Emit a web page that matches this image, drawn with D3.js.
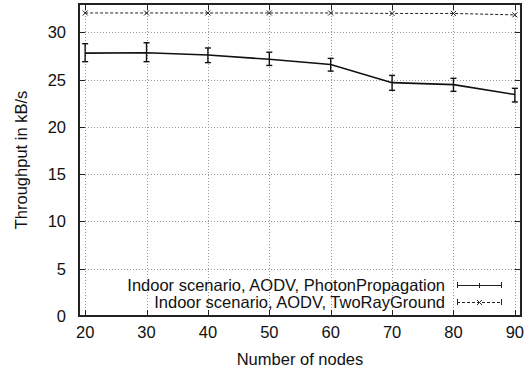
<!DOCTYPE html>
<html>
<head>
<meta charset="utf-8">
<script src="https://cdn.jsdelivr.net/npm/d3@7"></script>
<style>
  body { margin: 0; background: #fff; }
  text { font-family: "Liberation Sans", Arial, sans-serif; fill: #111; }
</style>
</head>
<body>
<div id="chart"></div>
<script>
// data
const nodes = [20, 30, 40, 50, 60, 70, 80, 90];
const photon = [27.8, 27.85, 27.6, 27.15, 26.6, 24.68, 24.47, 23.42];
const photonLow = [26.9, 26.9, 26.8, 26.5, 25.9, 23.87, 23.76, 22.64];
const photonHigh = [28.8, 28.9, 28.35, 27.9, 27.25, 25.45, 25.14, 24.08];
const twoRay = [32.05, 32.05, 32.05, 32.05, 32.05, 32.0, 32.0, 31.85];
const yTicks = [0, 5, 10, 15, 20, 25, 30];
const legendLabels = ["Indoor scenario, AODV, PhotonPropagation", "Indoor scenario, AODV, TwoRayGround"];

const W = 532, H = 371;
const margin = { left: 79, top: 4, right: 11, bottom: 55 };
const fs = 16.5;

const svg = d3.select("#chart").append("svg")
  .attr("width", W).attr("height", H);

const x = d3.scaleLinear().domain([19, 91]).range([margin.left, W - margin.right]);
const y = d3.scaleLinear().domain([0, 33]).range([H - margin.bottom, margin.top]);

// grid
const grid = svg.append("g").attr("stroke", "#999").attr("stroke-width", 1)
  .attr("stroke-dasharray", "1,2").attr("shape-rendering", "crispEdges");
grid.selectAll(".gx").data(nodes).enter().append("line")
  .attr("x1", d => Math.round(x(d)) + 0.5).attr("x2", d => Math.round(x(d)) + 0.5)
  .attr("y1", y(33)).attr("y2", y(0));
grid.selectAll(".gy").data(yTicks.slice(1)).enter().append("line")
  .attr("x1", x(19)).attr("x2", x(91))
  .attr("y1", d => Math.round(y(d)) + 0.5).attr("y2", d => Math.round(y(d)) + 0.5);

// ticks, inward on all four sides
const tk = svg.append("g").attr("stroke", "#222").attr("stroke-width", 1);
nodes.forEach(d => {
  const px = Math.round(x(d)) + 0.5;
  tk.append("line").attr("x1", px).attr("x2", px).attr("y1", y(0)).attr("y2", y(0) - 6);
  tk.append("line").attr("x1", px).attr("x2", px).attr("y1", y(33)).attr("y2", y(33) + 6);
});
yTicks.forEach(d => {
  const py = Math.round(y(d)) + 0.5;
  tk.append("line").attr("x1", x(19)).attr("x2", x(19) + 6).attr("y1", py).attr("y2", py);
  tk.append("line").attr("x1", x(91)).attr("x2", x(91) - 6).attr("y1", py).attr("y2", py);
});

// tick labels
svg.append("g").selectAll("text").data(nodes).enter().append("text")
  .attr("x", d => x(d)).attr("y", y(0) + 22)
  .attr("text-anchor", "middle").attr("font-size", fs).text(d => d);
svg.append("g").selectAll("text").data(yTicks).enter().append("text")
  .attr("x", x(19) - 13).attr("y", d => y(d) + 6)
  .attr("text-anchor", "end").attr("font-size", fs).text(d => d);

// axis titles
svg.append("text").attr("x", (x(19) + x(91)) / 2).attr("y", H - 6)
  .attr("text-anchor", "middle").attr("font-size", fs).text("Number of nodes");
svg.append("text").attr("transform", `translate(27,${(y(0) + y(33)) / 2}) rotate(-90)`)
  .attr("text-anchor", "middle").attr("font-size", fs).text("Throughput in kB/s");

// TwoRayGround dashed series
const line = d3.line().x(d => x(d[0])).y(d => y(d[1]));
const trData = nodes.map((n, i) => [n, twoRay[i]]);
svg.append("path").datum(trData).attr("d", line)
  .attr("fill", "none").attr("stroke", "#222").attr("stroke-width", 1)
  .attr("stroke-dasharray", "3,2");
const cross = (g, cx, cy) => {
  g.append("path").attr("d", `M${cx - 2.5},${cy - 2.5}L${cx + 2.5},${cy + 2.5}M${cx - 2.5},${cy + 2.5}L${cx + 2.5},${cy - 2.5}`)
    .attr("stroke", "#222").attr("stroke-width", 1);
};
const trg = svg.append("g");
trData.forEach(d => cross(trg, x(d[0]), y(d[1])));

// PhotonPropagation series with error bars
const phData = nodes.map((n, i) => [n, photon[i]]);
svg.append("path").datum(phData).attr("d", line)
  .attr("fill", "none").attr("stroke", "#111").attr("stroke-width", 1.6);
const eb = svg.append("g").attr("stroke", "#111").attr("stroke-width", 1.4);
nodes.forEach((n, i) => {
  const px = x(n);
  eb.append("line").attr("x1", px).attr("x2", px).attr("y1", y(photonLow[i])).attr("y2", y(photonHigh[i]));
  eb.append("line").attr("x1", px - 3).attr("x2", px + 3).attr("y1", y(photonLow[i])).attr("y2", y(photonLow[i]));
  eb.append("line").attr("x1", px - 3).attr("x2", px + 3).attr("y1", y(photonHigh[i])).attr("y2", y(photonHigh[i]));
});

// legend
const lg = svg.append("g");
const lx1 = 457, lx2 = 502;
legendLabels.forEach((t, i) => {
  const ly = 285 + i * 17;
  lg.append("text").attr("x", 445).attr("y", ly + 6).attr("text-anchor", "end")
    .attr("font-size", fs).text(t);
  const s = lg.append("g").attr("stroke", "#222").attr("stroke-width", 1);
  s.append("line").attr("x1", lx1).attr("x2", lx2).attr("y1", ly + 0.5).attr("y2", ly + 0.5)
    .attr("stroke-dasharray", i === 0 ? null : "3,2");
  s.append("line").attr("x1", lx1 + 0.5).attr("x2", lx1 + 0.5).attr("y1", ly - 3).attr("y2", ly + 3);
  s.append("line").attr("x1", lx2 - 0.5).attr("x2", lx2 - 0.5).attr("y1", ly - 3).attr("y2", ly + 3);
  if (i === 0) {
    s.append("line").attr("x1", (lx1 + lx2) / 2).attr("x2", (lx1 + lx2) / 2).attr("y1", ly - 2).attr("y2", ly + 3);
  } else {
    cross(lg, (lx1 + lx2) / 2, ly + 0.5);
  }
});

// frame
svg.append("rect").attr("x", x(19)).attr("y", y(33))
  .attr("width", x(91) - x(19)).attr("height", y(0) - y(33))
  .attr("fill", "none").attr("stroke", "#222").attr("stroke-width", 2);
</script>
</body>
</html>
